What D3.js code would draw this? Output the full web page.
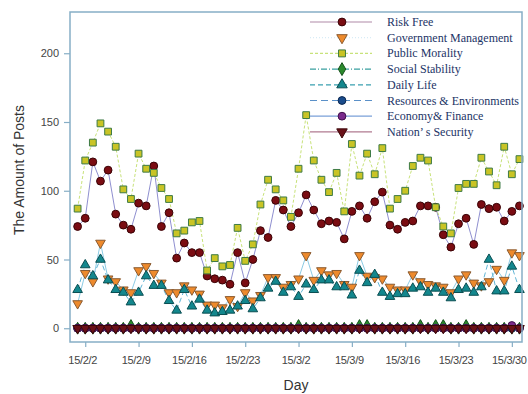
<!DOCTYPE html>
<html>
<head>
<meta charset="utf-8">
<script src="https://cdn.jsdelivr.net/npm/d3@7"></script>
<style>
  body { margin: 0; background: #fff; }
  svg { display: block; }
</style>
</head>
<body>
<script>
// daily values, 2015-02-01 .. 2015-03-31
const startDay = new Date(2015, 1, 1)
const riskFree = [74, 80, 121, 107, 115, 83, 75, 72, 91, 89, 118, 74, 84, 51, 62, 55, 55, 38, 36, 35,
  32, 55, 33, 50, 71, 66, 93, 86, 74, 84, 97, 86, 76, 78, 77, 65, 85, 89, 80, 92,
  99, 75, 72, 77, 78, 89, 89, 88, 68, 59, 76, 80, 61, 90, 87, 88, 78, 85, 89]
const govManagement = [18, 40, 34, 62, 36, 34, 28, 26, 42, 45, 40, 33, 26, 26, 31, 28, 25, 17, 17, 15,
  21, 16, 26, 20, 24, 37, 37, 30, 32, 36, 53, 35, 42, 39, 40, 32, 30, 53, 38, 37,
  36, 30, 28, 28, 39, 34, 32, 31, 30, 26, 36, 39, 33, 31, 34, 43, 35, 55, 53]
const publicMorality = [87, 122, 135, 149, 143, 132, 101, 94, 127, 116, 113, 102, 94, 69, 71, 77, 78, 42, 51, 45,
  46, 73, 49, 61, 90, 108, 101, 93, 81, 116, 155, 122, 108, 99, 113, 85, 134, 111, 127, 112,
  131, 87, 94, 100, 118, 124, 122, 88, 74, 69, 102, 105, 105, 124, 114, 104, 132, 112, 123]
const socialStability = [0, 0, 0, 0, 0, 0, 0, 2, 0, 0, 0, 0, 0, 0, 0, 0, 0, 0, 0, 0,
  0, 0, 0, 0, 0, 0, 0, 0, 0, 2, 0, 0, 0, 0, 0, 0, 0, 2, 2, 0,
  0, 0, 0, 0, 0, 2, 0, 2, 2, 0, 0, 2, 0, 0, 0, 0, 0, 0, 0]
const dailyLife = [28, 46, 38, 50, 35, 28, 26, 19, 26, 38, 31, 31, 20, 13, 28, 16, 21, 13, 11, 12,
  13, 16, 20, 14, 22, 29, 34, 26, 30, 23, 32, 28, 35, 35, 30, 30, 24, 42, 33, 39,
  26, 23, 25, 25, 29, 30, 26, 29, 26, 22, 28, 29, 26, 30, 50, 27, 27, 45, 28]
const resources = [0, 0, 0, 0, 0, 0, 0, 0, 0, 0, 0, 0, 0, 0, 0, 0, 0, 0, 0, 0,
  0, 0, 0, 0, 0, 0, 0, 0, 0, 0, 0, 0, 0, 0, 0, 0, 0, 0, 0, 0,
  0, 0, 0, 0, 0, 0, 0, 0, 0, 0, 0, 0, 0, 0, 0, 0, 0, 0, 0]
const economy = [0, 0, 0, 0, 0, 0, 0, 0, 0, 0, 0, 0, 0, 0, 0, 0, 0, 0, 0, 0,
  0, 0, 0, 0, 0, 0, 0, 0, 0, 0, 0, 0, 0, 0, 0, 0, 0, 0, 0, 0,
  0, 0, 0, 0, 0, 0, 0, 0, 0, 0, 0, 0, 0, 0, 0, 0, 0, 2, 0]
const nationSecurity = [0, 0, 0, 0, 0, 0, 0, 0, 0, 0, 0, 0, 0, 0, 0, 0, 0, 0, 0, 0,
  0, 0, 0, 0, 0, 0, 0, 0, 0, 0, 0, 0, 0, 0, 0, 0, 0, 0, 0, 0,
  0, 0, 0, 0, 0, 0, 0, 0, 0, 0, 0, 0, 0, 0, 0, 0, 0, 0, 0]

const xTickDates = [new Date(2015, 1, 2), new Date(2015, 1, 9), new Date(2015, 1, 16), new Date(2015, 1, 23),
  new Date(2015, 2, 2), new Date(2015, 2, 9), new Date(2015, 2, 16), new Date(2015, 2, 23), new Date(2015, 2, 30)]
const xTickLabels = ['15/2/2', '15/2/9', '15/2/16', '15/2/23', '15/3/2', '15/3/9', '15/3/16', '15/3/23', '15/3/30']
const yTicks = [0, 50, 100, 150, 200]

const series = [
  { name: 'Risk Free', values: riskFree, shape: d3.symbolCircle, fill: '#7a0c12', stroke: '#3a0306', line: '#8f8fd0', dash: null, legendLine: '#b08aa8' },
  { name: 'Government Management', values: govManagement, shape: 'down', fill: '#ee8a2c', stroke: '#8a5a30', line: '#8ccbe4', dash: null, legendLine: '#d8ecf6', legendDash: '1,2' },
  { name: 'Public Morality', values: publicMorality, shape: d3.symbolSquare, fill: '#c9c425', stroke: '#3d7a45', line: '#c8e27a', dash: '3,2', legendLine: '#c8e27a' },
  { name: 'Social Stability', values: socialStability, shape: d3.symbolDiamond, fill: '#2a8a2c', stroke: '#14501a', line: '#3aa0a0', dash: '6,2,1,2', legendLine: '#3aa0a0' },
  { name: 'Daily Life', values: dailyLife, shape: d3.symbolTriangle, fill: '#13878d', stroke: '#0a4e52', line: '#62b6d6', dash: '5,3', legendLine: '#3aa0b0' },
  { name: 'Resources & Environments', values: resources, shape: d3.symbolCircle, fill: '#1a4c8c', stroke: '#0c2850', line: '#5a90c8', dash: '7,4', legendLine: '#5a90c8' },
  { name: 'Economy& Finance', values: economy, shape: d3.symbolCircle, fill: '#7a2a8c', stroke: '#40104a', line: '#7aa0d8', dash: null, legendLine: '#7aa0d8' },
  { name: 'Nation\u2019 s Security', values: nationSecurity, shape: 'down', fill: '#6a1018', stroke: '#3a0608', line: '#7a8ad0', dash: null, legendLine: '#b07a90' }
]

const width = 528
const height = 394
const margin = { left: 70, right: 6, top: 12, bottom: 52 }

const svg = d3.select('body').append('svg').attr('width', width).attr('height', height)

const x = d3.scaleTime()
  .domain([new Date(2015, 0, 31), new Date(2015, 2, 31, 8)])
  .range([margin.left, width - margin.right])
const y = d3.scaleLinear().domain([-10, 230]).range([height - margin.bottom, margin.top])

const dateOf = (i) => d3.timeDay.offset(startDay, i)

// symbol paths
function symbolPath(shape, size) {
  if (shape === 'down') return d3.symbol(d3.symbolTriangle, size)()
  return d3.symbol(shape, size)()
}

// axes
const axisColor = '#86aec6'
const xAxis = svg.append('g')
  .attr('transform', `translate(0,${height - margin.bottom})`)
  .call(d3.axisBottom(x).tickValues(xTickDates).tickFormat((d, i) => xTickLabels[i]).tickSize(5).tickPadding(9))
const yAxis = svg.append('g')
  .attr('transform', `translate(${margin.left},0)`)
  .call(d3.axisLeft(y).tickValues(yTicks).tickSize(6).tickPadding(5))
;[xAxis, yAxis].forEach((g) => {
  g.select('.domain').remove()
  g.selectAll('line').attr('stroke', axisColor).attr('stroke-width', 1.2)
  g.selectAll('text').attr('fill', '#444').style('font', '11px "Liberation Sans", Arial, sans-serif')
})
xAxis.selectAll('text').attr('dx', -3).style('letter-spacing', '-0.3px')

// lines and markers
const plot = svg.append('g')
series.forEach((s) => {
  const line = d3.line().x((d, i) => x(dateOf(i))).y((d) => y(d))
  plot.append('path')
    .attr('d', line(s.values))
    .attr('fill', 'none')
    .attr('stroke', s.line)
    .attr('stroke-width', 1)
    .attr('stroke-dasharray', s.dash)
})
series.forEach((s) => {
  const size = s.shape === d3.symbolSquare ? 46 : s.shape === d3.symbolCircle ? 48 : 40
  plot.append('g').selectAll('path')
    .data(s.values)
    .join('path')
    .attr('d', symbolPath(s.shape, size))
    .attr('transform', (d, i) => `translate(${x(dateOf(i))},${y(d)})${s.shape === 'down' ? ' rotate(180)' : ''}`)
    .attr('fill', s.fill)
    .attr('stroke', s.stroke)
    .attr('stroke-width', 1)
})

// plot frame
svg.append('rect')
  .attr('x', margin.left)
  .attr('y', margin.top)
  .attr('width', width - margin.left - margin.right)
  .attr('height', height - margin.top - margin.bottom)
  .attr('fill', 'none')
  .attr('stroke', axisColor)
  .attr('stroke-width', 1.5)

// legend
const legend = svg.append('g')
series.forEach((s, i) => {
  const ly = 22 + i * 15.7
  legend.append('line')
    .attr('x1', 310).attr('x2', 372).attr('y1', ly).attr('y2', ly)
    .attr('stroke', s.legendLine)
    .attr('stroke-width', 1.2)
    .attr('stroke-dasharray', s.legendDash || s.dash)
  legend.append('path')
    .attr('d', symbolPath(s.shape, 48))
    .attr('transform', `translate(342,${ly})${s.shape === 'down' ? ' rotate(180)' : ''}`)
    .attr('fill', s.fill)
    .attr('stroke', s.stroke)
  legend.append('text')
    .attr('x', 387).attr('y', ly + 4)
    .attr('fill', '#1c3466')
    .style('font', '12px "Liberation Serif", "Times New Roman", serif')
    .text(s.name)
})

// axis titles
svg.append('text')
  .attr('x', (margin.left + width - margin.right) / 2)
  .attr('y', 390)
  .attr('text-anchor', 'middle')
  .attr('fill', '#333')
  .style('font', '14px "Liberation Sans", Arial, sans-serif')
  .text('Day')
svg.append('text')
  .attr('transform', 'translate(24,170) rotate(-90)')
  .attr('text-anchor', 'middle')
  .attr('fill', '#333')
  .style('font', '14px "Liberation Sans", Arial, sans-serif')
  .text('The Amount of Posts')
</script>
</body>
</html>
